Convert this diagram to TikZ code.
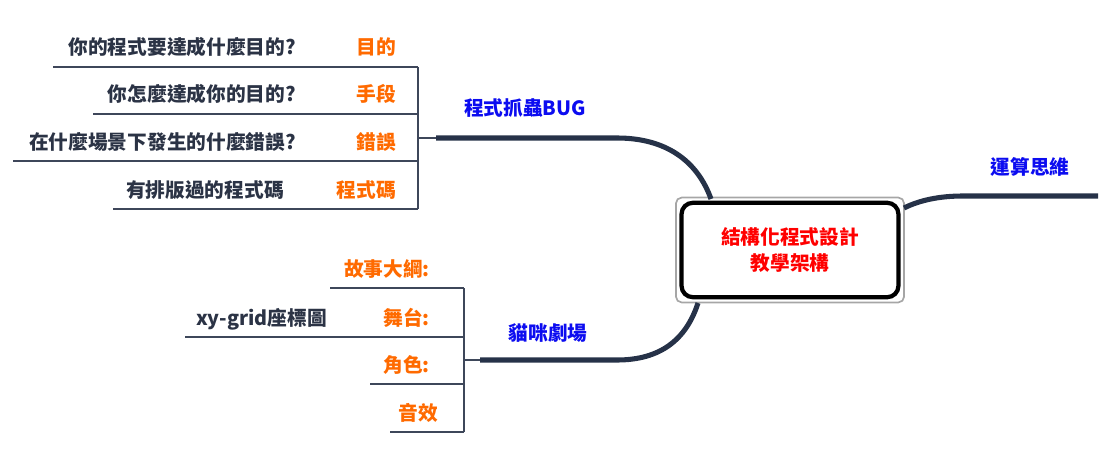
\documentclass[tikz,border=0pt]{standalone}
\usepackage{fontspec}
\setmainfont{Noto Sans CJK TC}
\definecolor{navy}{HTML}{263248}
\definecolor{twiggray}{HTML}{3E475A}
\definecolor{leaforange}{HTML}{FF6A00}
\definecolor{branchblue}{HTML}{0C0CF0}
\definecolor{textdark}{HTML}{2B3345}
\tikzset{trunk/.style={navy, line width=3.6pt},
  twig/.style={twiggray, line width=1.1pt},
  every node/.style={font=\fontsize{14}{17}\selectfont\bfseries, inner sep=0pt},
  branch/.style={branchblue, anchor=base},
  leaf/.style={leaforange, anchor=base east},
  note/.style={textdark, anchor=base east},
  rootframe/.style={draw=gray!70, line width=1.2pt, rounded corners=4pt, minimum width=5.7cm, minimum height=2.62cm},
  rootbox/.style={draw=black, line width=3pt, rounded corners=8pt, minimum width=5.42cm, minimum height=2.36cm,
    text=red, align=center, font=\fontsize{14}{18.5}\selectfont\bfseries}}

\begin{document}
\begin{tikzpicture}[x=0.025cm, y=-0.025cm]
   \useasboundingbox (0,0) rectangle (1102,459);
   \node[rootframe] (frame) at (790,250) {};
   \node[rootbox] (root) at (790,250) {結構化程式設計\\教學架構};
   \begin{scope}
    \coordinate (bugroot) at (711,199);
    \coordinate (bugknee) at (617,138);
    \coordinate (bug)     at (436,138);
    \coordinate (bugfork) at (418,138);
    \coordinate (b1) at (418, 67);
    \coordinate (b2) at (418,114);
    \coordinate (b3) at (418,161);
    \coordinate (b4) at (418,209);
    \coordinate (e1) at ( 53, 67);
    \coordinate (e2) at ( 93,114);
    \coordinate (e3) at ( 13,161);
    \coordinate (e4) at (113,209);
    \draw[trunk] (bugroot) .. controls (697,160) and (665,138) .. (bugknee) -- (bug);
    \draw[twig] (bug) -- (bugfork);
    \draw[twig] (b1) -- (b4);
    \draw[twig] (b1) -- (e1);
    \draw[twig] (b2) -- (e2);
    \draw[twig] (b3) -- (e3);
    \draw[twig] (b4) -- (e4);
    \node[branch] (bugname) at (525,116) {程式抓蟲BUG};
    \node[leaf] (goal) at (396, 55) {目的};
    \node[leaf] (means) at (396,102) {手段};
    \node[leaf] (error) at (396,149) {錯誤};
    \node[leaf] (code) at (396,197) {程式碼};
    \node[note] (goalq) at (296, 55) {你的程式要達成什麼目的?};
    \node[note] (meansq) at (296,102) {你怎麼達成你的目的?};
    \node[note] (errorq) at (296,149) {在什麼場景下發生的什麼錯誤?};
    \node[note] (codeq) at (284,197) {有排版過的程式碼};
   \end{scope}
   \begin{scope}
    \coordinate (catroot) at (698,303);
    \coordinate (catknee) at (617,360);
    \coordinate (cat)     at (480,360);
    \coordinate (catfork) at (464,360);
    \coordinate (c1) at (464,288);
    \coordinate (c2) at (464,337);
    \coordinate (c3) at (464,384);
    \coordinate (c4) at (464,432);
    \coordinate (f1) at (330,288);
    \coordinate (f2) at (185,337);
    \coordinate (f3) at (370,384);
    \coordinate (f4) at (390,432);
    \draw[trunk] (catroot) .. controls (686,340) and (660,360) .. (catknee) -- (cat);
    \draw[twig] (cat) -- (catfork);
    \draw[twig] (c1) -- (c4);
    \draw[twig] (c1) -- (f1);
    \draw[twig] (c2) -- (f2);
    \draw[twig] (c3) -- (f3);
    \draw[twig] (c4) -- (f4);
    \node[branch] (catname) at (548,340) {貓咪劇場};
    \node[leaf] (story) at (430,276) {故事大綱:};
    \node[leaf] (stage) at (430,325) {舞台:};
    \node[leaf] (role) at (430,372) {角色:};
    \node[leaf] (sound) at (438,420) {音效};
    \node[note] (grid) at (327,325) {xy-grid座標圖};
   \end{scope}
   \begin{scope}
    \coordinate (ctroot) at (904,208);
    \coordinate (ctknee) at (963,196);
    \coordinate (ct)     at (1098,196);
    \draw[trunk] (ctroot) .. controls (920,200) and (940,196) .. (ctknee) -- (ct);
    \node[branch] (ctname) at (1030,175) {運算思維};
   \end{scope}
  \end{tikzpicture}
\end{document}
